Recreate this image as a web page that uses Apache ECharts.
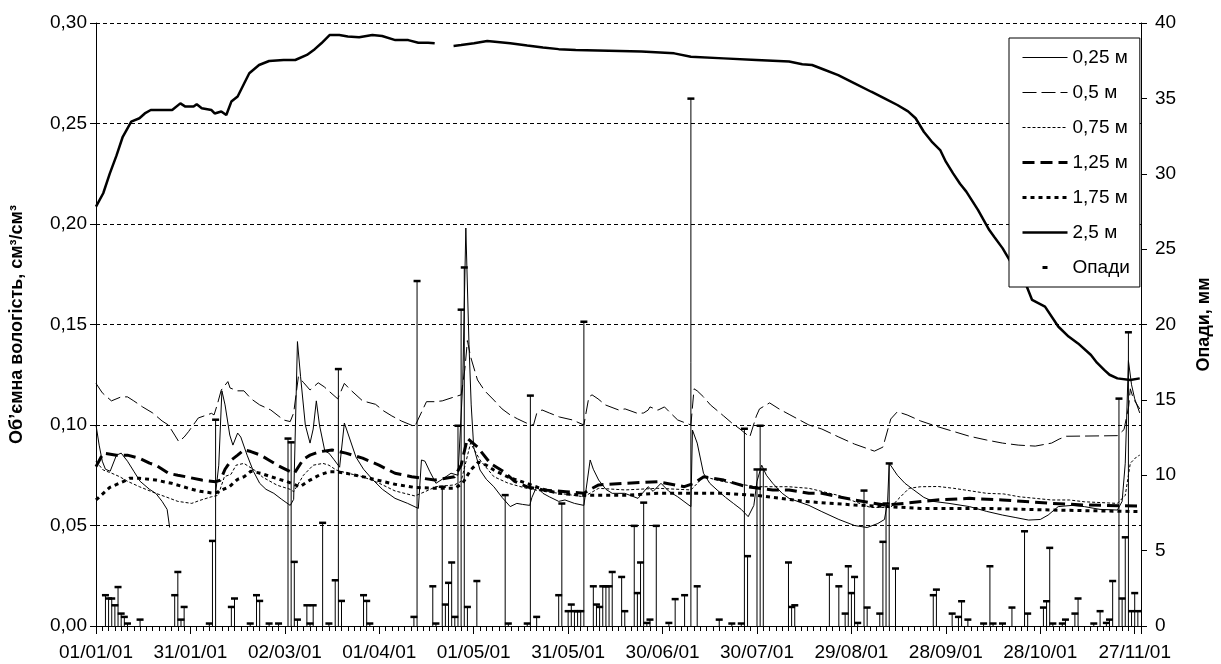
<!DOCTYPE html>
<html>
<head>
<meta charset="utf-8">
<title>Об’ємна вологість і опади</title>
<script src="https://cdn.jsdelivr.net/npm/echarts@6.0.0/dist/echarts.min.js"></script>
<style>
  html, body { margin: 0; padding: 0; background: #fff; }
  #main { width: 1221px; height: 664px; }
</style>
</head>
<body>
<div id="main"></div>
<script>
// день від 01/01/01 -> значення (пари [день, вологість])
const m025 = [[0,0.100],[1,0.090],[2,0.082],[3,0.078],[4.5,0.077],[6.5,0.085],[8,0.086],[10,0.082],[12,0.077],[14,0.072],[17,0.068],[19,0.066],[21,0.062],[22.6,0.058],[23.4,0.049],[24,'-'],
  [38,0.066],[39,0.080],[40,0.117],[41,0.110],[42.5,0.095],[43.5,0.090],[45,0.096],[46,0.094],[48,0.085],[50,0.077],[52,0.071],[54,0.068],[56.5,0.066],[59,0.063],[61.7,0.060],[62.8,0.063],[64,0.1415],[65,0.124],[66.5,0.100],[68,0.091],[69,0.098],[70,0.112],[71,0.100],[72.7,0.087],[74,0.086],[75.5,0.083],[77.4,0.079],[78.9,0.101],[80,0.096],[82.6,0.084],[85,0.078],[87.8,0.073],[91,0.068],[95,0.0635],[99,0.061],[102.4,0.0585],
  [103.4,0.0826],[104.5,0.082],[106,0.077],[108,0.071],[110,0.073],[112.8,0.076],[115,0.075],[116.5,0.120],[117.5,0.198],[118.5,0.140],[119.2,0.110],[120,0.089],[122,0.0776],[124,0.073],[126.4,0.0693],[129,0.064],[131.6,0.0594],[133.7,0.061],[135.5,0.0605],[137.8,0.060],
  [138.5,0.064],[140,0.0693],[142,0.066],[144,0.0643],[147,0.062],[149,0.0627],[152,0.061],[155,0.060],[157,0.0826],[158,0.078],[159.7,0.0726],[162,0.068],[164,0.066],[168,0.066],[172.2,0.0635],[175.4,0.0693],[177,0.067],[179.5,0.071],[182,0.067],[184.8,0.0643],[189,0.0594],[189.5,0.0975],[191,0.091],[193,0.076],[195,0.071],[197.3,0.0677],[200,0.064],[202.5,0.061],[205,0.058],[207.2,0.0544],[209,0.060],[210,0.072],[211.5,0.080],[213,0.075],[215,0.071],[218,0.066],[220.2,0.0635],[226.5,0.060],[230.6,0.0569],[236,0.053],[241,0.050],[245,0.049],[248.4,0.051],[250.5,0.053],[251.5,0.062],[252,0.081],[254.6,0.075],[257,0.071],[259.8,0.0677],[263,0.064],[266,0.062],[271,0.061],[277.5,0.0594],[283,0.057],[288,0.0552],[292,0.054],[296.3,0.0527],[300,0.053],[302.5,0.0552],[305.7,0.0594],[310,0.060],[314,0.0594],[319,0.058],[324.5,0.0577],[326,0.062],[327,0.081],[328,0.132],[329,0.120],[330,0.113],[331.6,0.106]];

const m05 = [[0,0.1207],[2,0.116],[4.9,0.112],[8,0.114],[10,0.114],[12,0.112],[14.8,0.109],[18,0.106],[21,0.102],[23,0.100],[25,0.095],[26.3,0.0917],[28,0.094],[29.4,0.0967],[32.5,0.1035],[36.7,0.1058],[37.5,0.105],[38.5,0.110],[39.8,0.1174],[41.9,0.1216],[42.6,0.1184],[45,0.117],[47,0.117],[49.3,0.113],[52,0.110],[55.5,0.1075],[59.6,0.1025],[61.7,0.1017],[62.8,0.106],[64.3,0.124],[66,0.121],[68,0.1174],[70.6,0.121],[72.5,0.119],[74.2,0.1166],[76.8,0.113],[78.9,0.1207],[80.5,0.118],[82.6,0.115],[84.7,0.112],[88.8,0.1103],[91.4,0.107],[94,0.1045],[97,0.102],[101.3,0.0992],[102.4,0.103],[105,0.1116],[107.6,0.1116],[110,0.112],[113.9,0.114],[116,0.115],[117.2,0.128],[118,0.142],[119,0.134],[121.2,0.1224],[123.5,0.117],[126.4,0.1124],[129,0.108],[131.6,0.105],[134,0.103],[136.7,0.101],[139,0.100],[140,0.1057],[141.7,0.1075],[144,0.106],[147.2,0.104],[151.4,0.1025],[155,0.100],[156.6,0.114],[157.6,0.115],[159.5,0.113],[161.8,0.110],[166,0.1075],[168.1,0.108],[172.2,0.1057],[174,0.106],[175.4,0.1074],[176,0.109],[178.5,0.1074],[180.6,0.109],[182.5,0.106],[184.8,0.1025],[189,0.100],[190,0.118],[191,0.117],[193,0.114],[195.2,0.110],[199.4,0.1045],[202,0.101],[204.6,0.098],[207.7,0.094],[209.8,0.1045],[210.8,0.108],[214,0.111],[217,0.108],[220.2,0.1053],[226.5,0.100],[230.6,0.098],[236,0.094],[241,0.0905],[247.3,0.087],[250,0.089],[252.5,0.103],[254.6,0.1066],[257.7,0.105],[262,0.102],[267.1,0.0993],[272,0.097],[277.5,0.0944],[283,0.0925],[288,0.091],[293,0.090],[298.4,0.0895],[303.6,0.091],[306,0.093],[308.3,0.0944],[314,0.0945],[320,0.0946],[324.5,0.0947],[326.6,0.0977],[328.1,0.1094],[328.6,0.118],[329.6,0.113],[331.6,0.108]];

const m075 = [[0,0.0818],[2.3,0.0776],[5,0.076],[7.5,0.0743],[10,0.072],[13.8,0.0693],[19,0.066],[22.1,0.0643],[26,0.062],[30.4,0.061],[33,0.0625],[36.7,0.0643],[38.8,0.065],[40.8,0.0743],[42.9,0.0755],[44.5,0.080],[47,0.0809],[50.3,0.0776],[53,0.074],[57.6,0.070],[61.7,0.068],[62.8,0.0668],[65.9,0.075],[69,0.080],[72.1,0.0809],[74,0.080],[76.3,0.0776],[80,0.076],[84.7,0.0743],[90,0.071],[95,0.0672],[101.3,0.0647],[104.5,0.0668],[108,0.0693],[113.9,0.0702],[116,0.072],[119,0.091],[122,0.0826],[126.4,0.0743],[131,0.071],[136.8,0.0685],[142,0.067],[147.2,0.066],[155,0.0643],[159.7,0.0685],[168.1,0.0677],[178.5,0.0685],[189,0.0677],[193.1,0.0743],[199.4,0.0718],[209.8,0.0693],[220,0.0693],[226.5,0.0685],[235.8,0.065],[246,0.059],[252.5,0.059],[254.6,0.0627],[258.3,0.0685],[262,0.0693],[267.6,0.0694],[272.5,0.0685],[283,0.066],[288.4,0.0657],[293.3,0.0643],[303.6,0.0627],[309.3,0.0627],[314,0.0618],[324.5,0.061],[327,0.065],[328.6,0.081],[330.7,0.0843],[331.6,0.085]];

const m125 = [[0,0.0793],[2.3,0.086],[6.5,0.085],[10,0.085],[13.8,0.0835],[17,0.081],[19,0.080],[23.1,0.0759],[26,0.075],[28.4,0.0743],[33.6,0.0726],[38,0.0718],[39.5,0.0725],[41,0.078],[43,0.0826],[45,0.085],[47,0.0876],[49.2,0.0868],[52.3,0.085],[55,0.0825],[57.6,0.080],[61.7,0.0768],[63,0.076],[65.9,0.083],[68,0.085],[71,0.0867],[75,0.0876],[79.4,0.086],[84.7,0.0835],[89.9,0.080],[95,0.076],[100.3,0.0743],[107.6,0.0726],[113.9,0.0743],[116,0.080],[118,0.0934],[121.2,0.089],[125.3,0.0809],[129.5,0.0768],[133,0.072],[136.8,0.0693],[142,0.0677],[149.3,0.0668],[155,0.066],[157,0.068],[159.7,0.0702],[168.1,0.071],[178.5,0.0718],[186.9,0.0693],[190,0.071],[193.1,0.0743],[199.4,0.0726],[206.7,0.0693],[215,0.0677],[220.2,0.0677],[226.5,0.066],[230.6,0.066],[241,0.0627],[250.5,0.0602],[256.7,0.061],[267.1,0.0627],[277.5,0.0635],[288,0.0627],[303.6,0.061],[314,0.0602],[331.6,0.0597]];

const m175 = [[0,0.0627],[4.4,0.069],[8.6,0.0718],[10.6,0.0735],[13.8,0.0735],[19,0.0726],[24,0.071],[29.4,0.0685],[33,0.067],[37.7,0.066],[39.8,0.0675],[42.4,0.0693],[45,0.073],[47.1,0.0743],[49.2,0.077],[52.3,0.076],[55.5,0.0743],[60.7,0.0718],[64.8,0.0693],[68,0.0726],[71,0.0751],[74.2,0.0768],[76.2,0.0768],[79.4,0.076],[84.7,0.0743],[95,0.0705],[101,0.069],[107.6,0.0685],[114,0.0685],[116.5,0.071],[119,0.0776],[121.5,0.0815],[124,0.080],[126.4,0.0776],[131,0.074],[136.8,0.071],[142,0.068],[147,0.066],[155,0.065],[168,0.065],[178.5,0.066],[189,0.066],[199.4,0.066],[209.8,0.065],[220,0.063],[226.5,0.0618],[241,0.0602],[251.5,0.0594],[262,0.0585],[283,0.0585],[303.6,0.0577],[331.6,0.0569]];

const m25 = [[0,0.2086],[2.3,0.2153],[4.4,0.2252],[6.5,0.234],[8.5,0.2434],[11.2,0.2509],[13.8,0.2526],[15.5,0.255],[17.4,0.2567],[24.2,0.2567],[26.8,0.260],[28.4,0.2584],[31,0.2584],[32,0.2596],[33.6,0.2576],[36.7,0.2567],[37.7,0.255],[39.8,0.256],[41.4,0.2542],[43,0.2609],[45,0.2634],[47.1,0.270],[48.7,0.275],[51.8,0.2791],[55,0.2811],[59.6,0.2816],[63.3,0.2816],[67,0.2841],[69.5,0.287],[71.6,0.2899],[74.2,0.294],[77.3,0.294],[80,0.2933],[83.6,0.2929],[87.8,0.294],[90.9,0.2935],[95.1,0.2915],[99.2,0.2915],[102.4,0.2902],[105.5,0.2902],[107.6,0.2899],[110,'-'],
  [113.6,0.2886],[116,0.289],[120.1,0.2899],[124.3,0.291],[131.6,0.2899],[137,0.2888],[142,0.2878],[147,0.287],[152.4,0.2866],[162.9,0.2862],[173.3,0.2858],[183.7,0.2849],[189,0.2832],[199.4,0.2824],[209.8,0.2816],[220.2,0.2808],[224.4,0.2795],[227.5,0.2791],[231,0.277],[235.8,0.2741],[241,0.270],[246.3,0.2658],[250.5,0.2625],[254.6,0.2592],[258,0.256],[260.4,0.2526],[263,0.2459],[265.5,0.241],[268.2,0.2368],[270,0.231],[272.3,0.2252],[274.5,0.220],[276.5,0.2161],[280.2,0.207],[283.8,0.197],[285.4,0.1935],[288,0.188],[291,0.180],[295.3,0.1705],[297.4,0.1622],[301.5,0.1589],[305.7,0.149],[309,0.144],[312,0.1406],[316.1,0.1348],[318,0.131],[320.3,0.1274],[322,0.125],[324.5,0.1232],[328.6,0.1224],[331.6,0.1232]];

// опади, мм (день -> кількість)
const precipDays = [3,4,5,6,7,8,9,10,14,25,26,27,28,36,37,38,43,44,49,51,52,55,58,61,62,63,64,67,68,69,72,74,76,77,78,85,86,87,
  101,102,107,108,110,111,112,113,114,115,116,117,118,121,130,131,137,138,140,147,148,150,151,152,153,154,155,
  158,159,160,161,162,163,164,167,168,171,172,173,174,175,176,178,182,184,187,189,191,198,202,205,206,207,210,211,212,
  220,221,222,233,236,238,239,240,241,242,244,245,249,250,251,252,254,
  266,267,272,274,275,277,282,284,285,288,291,295,296,301,302,303,304,307,308,311,312,317,319,321,322,323,
  325,326,327,328,329,330,331];
const precipMm = [2.06,1.84,1.84,1.39,2.6,0.84,0.62,0.18,0.44,2.06,3.6,0.44,1.28,0.18,5.66,13.7,1.28,1.84,0.18,2.06,1.68,0.18,0.18,12.45,12.2,4.27,0.44,1.39,0.18,1.39,6.86,0.18,3.05,17.06,1.68,2.06,1.68,0.18,
  0.62,22.9,2.65,0.18,9.25,1.44,2.88,4.23,0.62,13.3,21.0,23.8,1.28,3.0,8.7,0.18,0.18,15.3,0.62,2.06,8.14,1.0,1.44,1.0,1.0,1.0,20.2,
  2.65,1.44,1.28,2.65,2.65,2.65,3.6,3.27,1.0,6.66,2.2,4.23,8.2,0.22,0.44,6.66,0.22,1.8,2.06,35.0,2.65,0.44,0.18,0.18,13.1,4.65,10.4,13.3,10.4,
  4.23,1.28,1.39,3.43,2.65,0.84,3.98,2.2,3.27,0.22,9.0,1.24,0.84,5.6,8.14,10.8,3.83,
  2.06,2.43,0.84,0.62,1.66,0.44,0.18,3.98,0.18,0.18,1.24,6.3,0.84,1.24,1.66,5.2,0.18,0.18,0.44,0.84,1.84,0.18,1.0,0.22,0.44,3.0,
  15.1,1.84,5.9,19.5,1.0,2.2,1.0];

const seriesNames = ['0,25 м', '0,5 м', '0,75 м', '1,25 м', '1,75 м', '2,5 м', 'Опади'];
// товщина і штрих кожної лінії (в тому ж порядку)
const lineWidths = [1, 1, 1, 3, 3, 2.5];
const lineDashes = ['solid', [14, 5], [3, 2], [12, 6], [4, 4], 'solid'];

const FONT = 'Liberation Sans, Arial, sans-serif';
const DAY = 86400000;
const START = Date.UTC(2001, 0, 1);

function pad(n) { return n < 10 ? '0' + n : '' + n; }
// номер дня -> дд/мм/рр
function dayLabel(d) {
  const t = new Date(START + d * DAY);
  return pad(t.getUTCDate()) + '/' + pad(t.getUTCMonth() + 1) + '/' + pad(t.getUTCFullYear() % 100);
}

// вертикальна лінія від нуля + короткий штрих зверху
function renderPrecip(params, api) {
  const top = api.coord([api.value(0), api.value(1)]);
  const base = api.coord([api.value(0), 0]);
  return {
    type: 'group',
    children: [
      { type: 'line', shape: { x1: top[0], y1: top[1], x2: base[0], y2: base[1] },
        style: { stroke: '#000', lineWidth: 1 } },
      { type: 'rect', shape: { x: top[0] - 3.5, y: top[1] - 1, width: 7, height: 2.5 },
        style: { fill: '#000' } }
    ]
  };
}

function lineSeries(i, data) {
  return {
    name: seriesNames[i],
    type: 'line',
    yAxisIndex: 0,
    data: data,
    symbol: 'none',
    smooth: false,
    lineStyle: { color: '#000', width: lineWidths[i], type: lineDashes[i], cap: 'butt' },
    itemStyle: { color: '#000' },
    z: 3
  };
}

// у легенді для ліній - лише лінія, без кружечка
const noDot = { color: 'rgba(0,0,0,0)', borderColor: 'rgba(0,0,0,0)', borderWidth: 0 };
function legendLine(i) {
  return {
    name: seriesNames[i],
    itemStyle: noDot,
    lineStyle: { color: '#000', width: lineWidths[i], type: lineDashes[i], cap: 'butt' }
  };
}

const myChart = echarts.init(document.getElementById('main'));

const option = {
  animation: false,
  backgroundColor: '#fff',
  textStyle: { fontFamily: FONT },
  grid: { left: 96, right: 65, top: 23, bottom: 38 },
  legend: {
    orient: 'vertical',
    left: 1009,
    top: 38,
    padding: [10, 10, 10, 12],
    itemWidth: 45,
    itemHeight: 14,
    itemGap: 16,
    backgroundColor: '#fff',
    borderColor: '#000',
    borderWidth: 1,
    borderRadius: 0,
    textStyle: { fontFamily: FONT, fontSize: 19, color: '#000' },
    data: [
      legendLine(0), legendLine(1), legendLine(2), legendLine(3), legendLine(4), legendLine(5),
      { name: seriesNames[6], icon: 'path://M0,0M20,5.5L25,5.5L25,8.5L20,8.5ZM45,14', itemStyle: { color: '#000' } }
    ]
  },
  xAxis: {
    type: 'value',
    min: 0,
    max: 332,
    interval: 30,
    axisLine: { show: true, lineStyle: { color: '#000', width: 1 } },
    axisTick: { show: true, length: 8, lineStyle: { color: '#000' } },
    minorTick: { show: true, splitNumber: 15, length: 5, lineStyle: { color: '#000' } },
    splitLine: { show: false },
    axisLabel: {
      color: '#000', fontSize: 19, margin: 17, fontFamily: FONT,
      showMaxLabel: false,
      formatter: function (v) { return v % 30 === 0 ? dayLabel(v) : ''; }
    }
  },
  yAxis: [
    {
      type: 'value',
      min: 0,
      max: 0.3,
      interval: 0.05,
      name: 'Об’ємна вологість, см³/см³',
      nameLocation: 'middle',
      nameGap: 70,
      nameTextStyle: { color: '#000', fontSize: 18, fontWeight: 'bold', fontFamily: FONT },
      axisLine: { show: true, lineStyle: { color: '#000', width: 1 } },
      axisTick: { show: true, length: 6, lineStyle: { color: '#000' } },
      splitLine: { show: true, lineStyle: { color: '#000', width: 1, type: [4, 3] } },
      axisLabel: {
        color: '#000', fontSize: 19, margin: 9, fontFamily: FONT,
        formatter: function (v) { return v.toFixed(2).replace('.', ','); }
      }
    },
    {
      type: 'value',
      min: 0,
      max: 40,
      interval: 5,
      position: 'right',
      name: 'Опади, мм',
      nameLocation: 'middle',
      nameGap: 54,
      nameRotate: 90,
      nameTextStyle: { color: '#000', fontSize: 18, fontWeight: 'bold', fontFamily: FONT },
      axisLine: { show: true, lineStyle: { color: '#000', width: 1 } },
      axisTick: { show: true, length: 6, lineStyle: { color: '#000' } },
      splitLine: { show: false },
      axisLabel: { color: '#000', fontSize: 19, margin: 14, fontFamily: FONT }
    }
  ],
  series: [
    lineSeries(0, m025),
    lineSeries(1, m05),
    lineSeries(2, m075),
    lineSeries(3, m125),
    lineSeries(4, m175),
    lineSeries(5, m25),
    {
      name: seriesNames[6],
      type: 'custom',
      yAxisIndex: 1,
      renderItem: renderPrecip,
      itemStyle: { color: '#000' },
      encode: { x: 0, y: 1 },
      data: precipDays.map(function (d, i) { return [d, precipMm[i]]; }),
      z: 2
    }
  ]
};

myChart.setOption(option);
</script>
</body>
</html>
